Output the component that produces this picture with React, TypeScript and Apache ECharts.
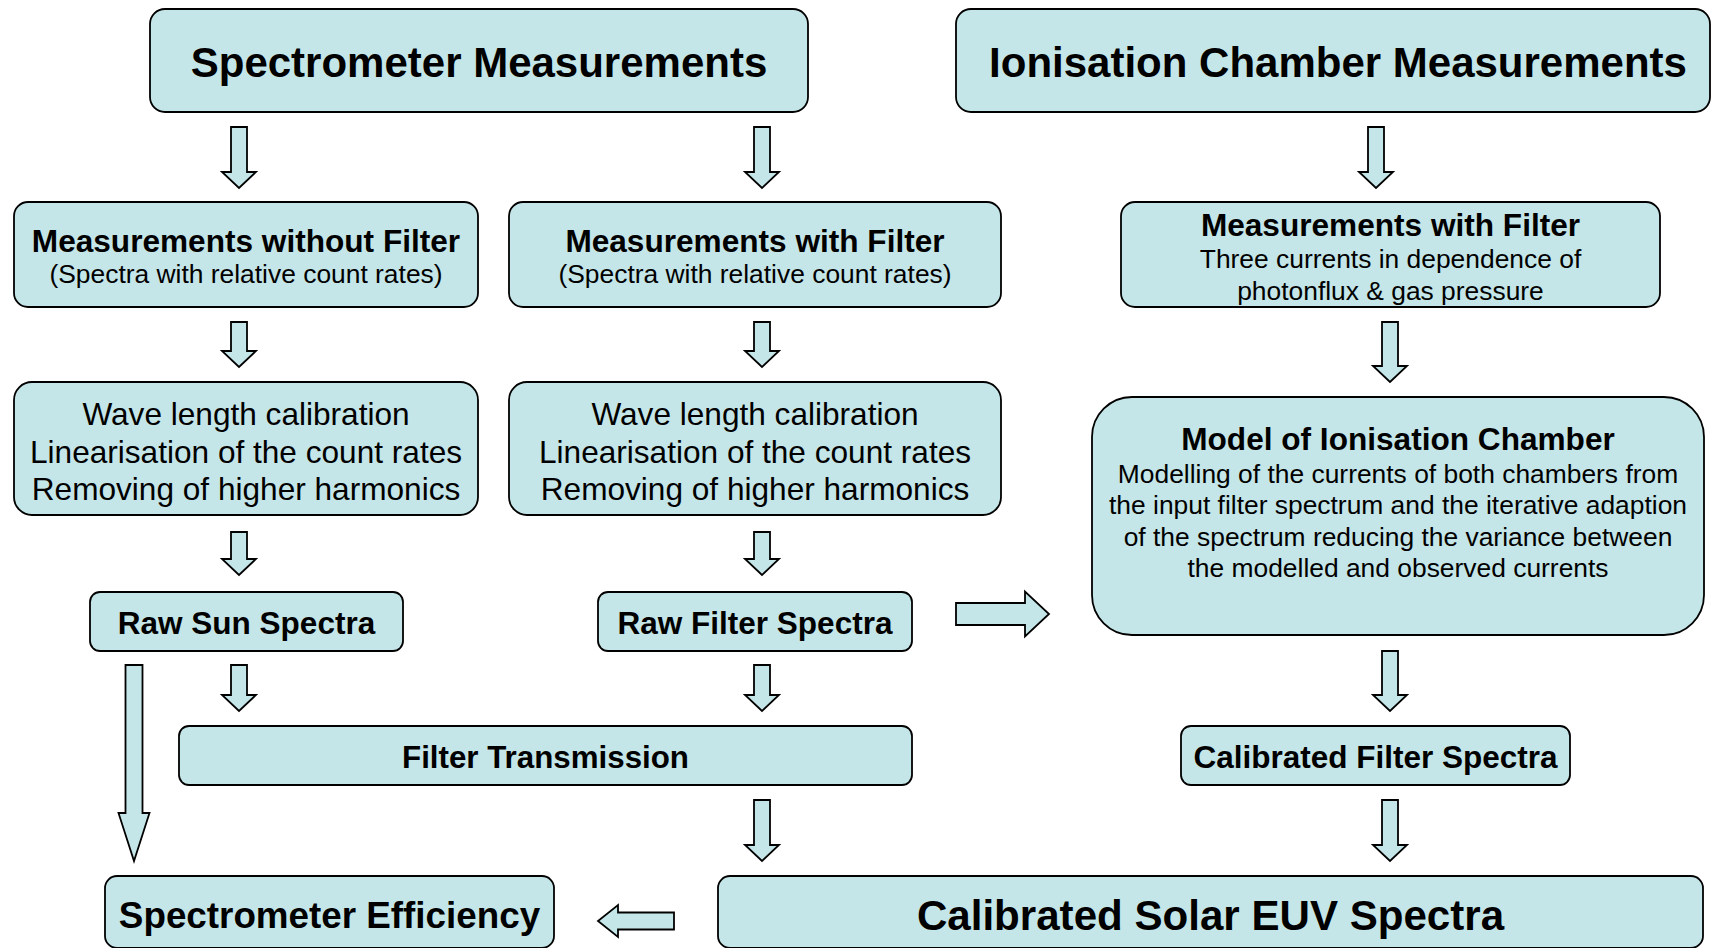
import React, { useEffect, useRef } from "react";
import * as echarts from "echarts";

// ---- content (texts of the flow chart) ----
const nodeIds = [
  "spec", "ion", "noFilter", "withFilterL", "withFilterR", "calibL", "calibM",
  "model", "rawSun", "rawFilter", "filterTrans", "calFilter", "specEff", "euv",
];
const nodeTitles = [
  "Spectrometer Measurements",
  "Ionisation Chamber Measurements",
  "Measurements without Filter",
  "Measurements with Filter",
  "Measurements with Filter",
  "",
  "",
  "Model of Ionisation Chamber",
  "Raw Sun Spectra",
  "Raw Filter Spectra",
  "Filter Transmission",
  "Calibrated Filter Spectra",
  "Spectrometer Efficiency",
  "Calibrated Solar EUV Spectra",
];
const nodeLines: string[][] = [
  [],
  [],
  ["(Spectra with relative count rates)"],
  ["(Spectra with relative count rates)"],
  ["Three currents in dependence of", "photonflux & gas pressure"],
  ["Wave length calibration", "Linearisation of the count rates", "Removing of higher harmonics"],
  ["Wave length calibration", "Linearisation of the count rates", "Removing of higher harmonics"],
  [
    "Modelling of the currents of both chambers from",
    "the input filter spectrum and the iterative adaption",
    "of the spectrum reducing the variance between",
    "the modelled and observed currents",
  ],
  [], [], [], [], [], [],
];
// arrows: [from, to]
const links: [string, string][] = [
  ["spec", "noFilter"], ["spec", "withFilterL"], ["ion", "withFilterR"],
  ["noFilter", "calibL"], ["withFilterL", "calibM"], ["withFilterR", "model"],
  ["calibL", "rawSun"], ["calibM", "rawFilter"], ["rawFilter", "model"],
  ["rawSun", "filterTrans"], ["rawFilter", "filterTrans"], ["rawSun", "specEff"],
  ["model", "calFilter"], ["filterTrans", "euv"], ["calFilter", "euv"], ["euv", "specEff"],
];

// ---- layout (positions / sizes / styles) ----
// box: [x, y, w, h, radius]
const boxLayout: Record<string, number[]> = {
  spec: [150, 9, 658, 103, 15],
  ion: [956, 9, 754, 103, 15],
  noFilter: [14, 202, 464, 105, 14],
  withFilterL: [509, 202, 492, 105, 14],
  withFilterR: [1121, 202, 539, 105, 14],
  calibL: [14, 382, 464, 133, 18],
  calibM: [509, 382, 492, 133, 18],
  model: [1092, 397, 612, 238, 40],
  rawSun: [90, 592, 313, 59, 10],
  rawFilter: [598, 592, 314, 59, 10],
  filterTrans: [179, 726, 733, 59, 10],
  calFilter: [1181, 726, 389, 59, 10],
  specEff: [105, 876, 449, 72, 12],
  euv: [718, 876, 985, 72, 12],
};
// title: [y, fontSize, dx], lines: [firstY, lineStep, fontSize]
const titleLayout: Record<string, number[]> = {
  spec: [62, 42, 0], ion: [62, 42, 5],
  noFilter: [241, 31.6, 0], withFilterL: [241, 31.6, 0], withFilterR: [225, 31.6, 0],
  model: [439, 31.6, 0],
  rawSun: [623, 31.5, 0], rawFilter: [623, 31.5, 0], filterTrans: [757, 31.3, 0], calFilter: [757, 31.5, 0],
  specEff: [915, 36.8, 0], euv: [915, 42.1, 0],
};
const linesLayout: Record<string, number[]> = {
  noFilter: [274, 33, 26.4], withFilterL: [274, 33, 26.4], withFilterR: [259, 31.5, 26.4],
  calibL: [414, 37.5, 31.6], calibM: [414, 37.5, 31.6],
  model: [474, 31.3, 26.4],
};
// arrow geometry per link: [kind, a, b, c, shaftW, headW, headL]
// down: [cx, yStart, yEnd]; right/left: [cy, xStart(tail), xEnd(tip)]
const arrowLayout: (string | number)[][] = [
  ["down", 239, 127, 188, 16, 34, 16],
  ["down", 762, 127, 188, 16, 34, 16],
  ["down", 1376, 127, 188, 16, 34, 16],
  ["down", 239, 322, 367, 16, 34, 16],
  ["down", 762, 322, 367, 16, 34, 16],
  ["down", 1390, 322, 382, 16, 34, 16],
  ["down", 239, 532, 575, 16, 34, 16],
  ["down", 762, 532, 575, 16, 34, 16],
  ["right", 614, 956, 1049, 22, 45, 24],
  ["down", 239, 665, 711, 16, 34, 16],
  ["down", 762, 665, 711, 16, 34, 16],
  ["down", 134, 665, 861, 17, 31, 48],
  ["down", 1390, 651, 711, 16, 34, 16],
  ["down", 762, 800, 861, 16, 34, 16],
  ["down", 1390, 800, 861, 16, 34, 16],
  ["left", 921, 674, 598, 17, 32, 20],
];

const FILL = "#C5E6E8";
const STROKE = "#000000";
const FONT = "'Liberation Sans', Arial, Helvetica, sans-serif";

function arrowPoints(a: (string | number)[]): number[][] {
  const [kind, c, s, e, sw, hw, hl] = a as [string, number, number, number, number, number, number];
  if (kind === "down") {
    const hs = e - hl;
    return [
      [c - sw / 2, s], [c + sw / 2, s], [c + sw / 2, hs], [c + hw / 2, hs],
      [c, e], [c - hw / 2, hs], [c - sw / 2, hs],
    ];
  }
  const dir = kind === "right" ? 1 : -1;
  const hs = e - dir * hl;
  return [
    [s, c - sw / 2], [hs, c - sw / 2], [hs, c - hw / 2], [e, c],
    [hs, c + hw / 2], [hs, c + sw / 2], [s, c + sw / 2],
  ];
}

function textEl(text: string, x: number, y: number, size: number, bold: boolean) {
  return {
    type: "text",
    x,
    y,
    silent: true,
    style: {
      text,
      x: 0,
      y: 0,
      textAlign: "center",
      textVerticalAlign: "middle",
      font: `${bold ? "bold " : ""}${size}px ${FONT}`,
      fill: "#000",
    },
  };
}

export default function App() {
  const ref = useRef<HTMLDivElement>(null);
  useEffect(() => {
    if (!ref.current) return;
    const chart = echarts.init(ref.current, undefined, { renderer: "svg" });
    const elements: any[] = [];

    arrowLayout.forEach((a, i) => {
      elements.push({
        type: "polygon",
        id: "arrow-" + links[i][0] + "-" + links[i][1],
        shape: { points: arrowPoints(a) },
        style: { fill: FILL, stroke: STROKE, lineWidth: 1.8, lineJoin: "miter" },
        silent: true,
      });
    });

    nodeIds.forEach((id, i) => {
      const [x, y, w, h, r] = boxLayout[id];
      const cx = x + w / 2;
      elements.push({
        type: "rect",
        id: "box-" + id,
        shape: { x, y, width: w, height: h, r },
        style: { fill: FILL, stroke: STROKE, lineWidth: 1.8 },
        silent: true,
      });
      if (nodeTitles[i]) {
        const [ty, ts, dx] = titleLayout[id];
        elements.push(textEl(nodeTitles[i], cx + dx, ty, ts, true));
      }
      const lines = nodeLines[i];
      if (lines.length) {
        const [ly, step, ls] = linesLayout[id];
        lines.forEach((t, k) => elements.push(textEl(t, cx, ly + k * step, ls, false)));
      }
    });

    chart.setOption({
      animation: false,
      backgroundColor: "#ffffff",
      graphic: { elements },
    });
    return () => chart.dispose();
  }, []);
  return (
    <div
      ref={ref}
      style={{ position: "fixed", left: 0, top: 0, width: 1712, height: 948, background: "#fff" }}
    />
  );
}
